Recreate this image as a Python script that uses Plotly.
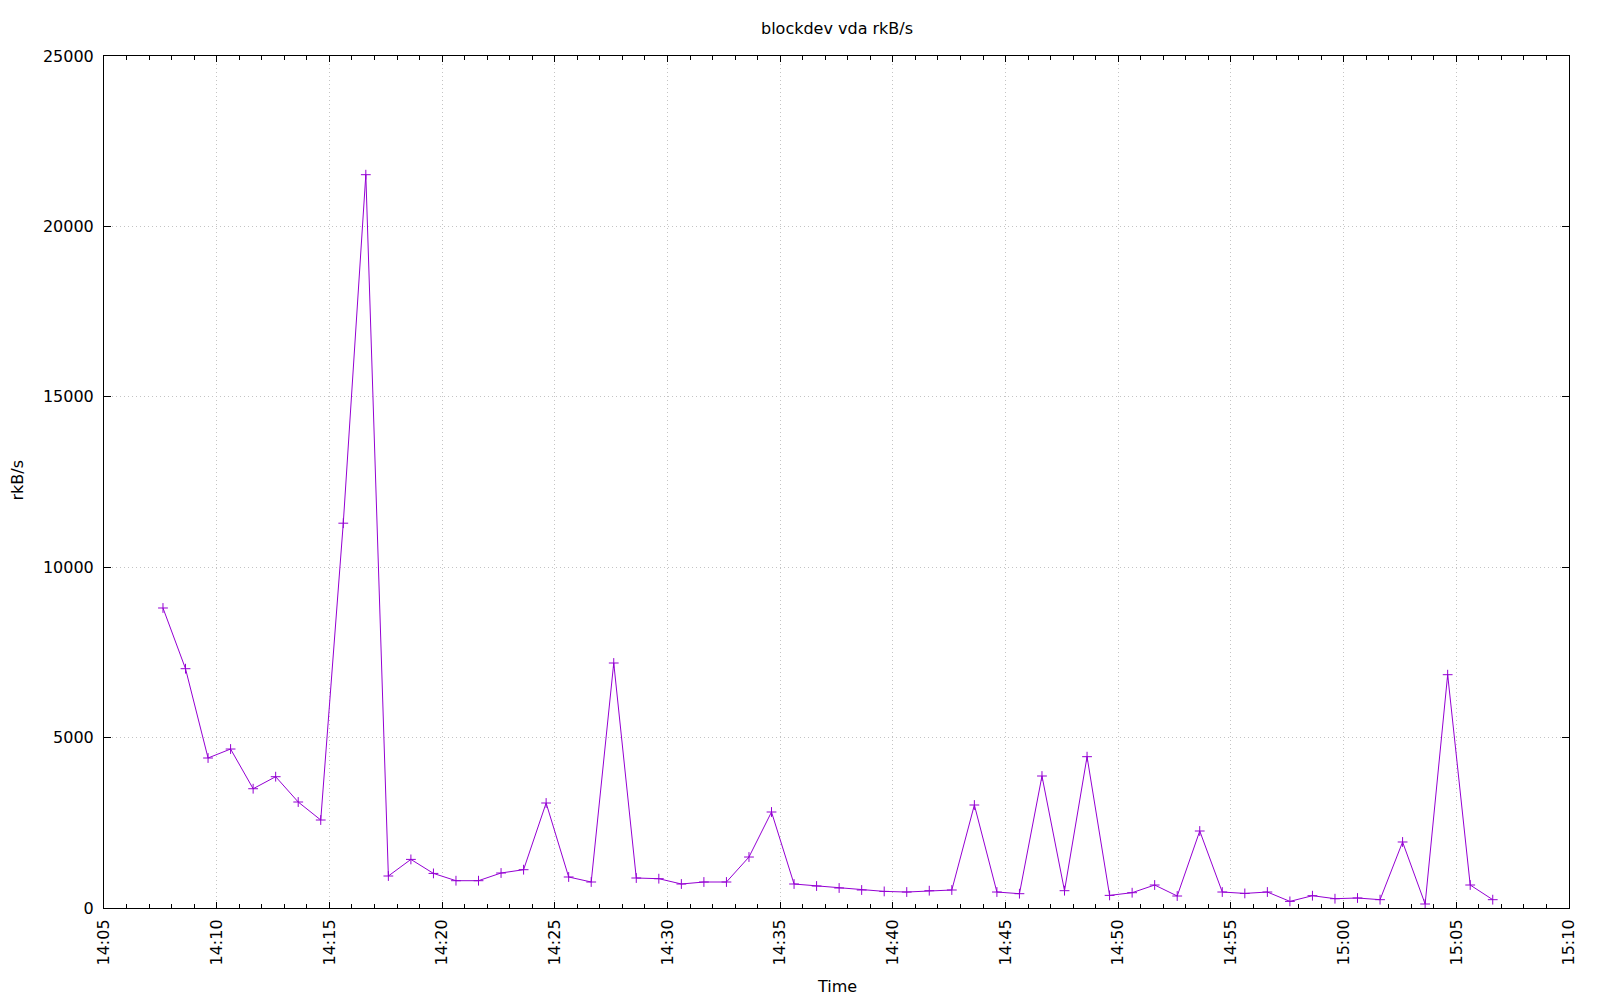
import plotly.graph_objects as go
import pandas as pd

times = [
    "14:07:37", "14:08:37", "14:09:37", "14:10:37", "14:11:37", "14:12:37", "14:13:37", "14:14:37",
    "14:15:37", "14:16:37", "14:17:37", "14:18:37", "14:19:37", "14:20:37", "14:21:37", "14:22:37",
    "14:23:37", "14:24:37", "14:25:37", "14:26:37", "14:27:37", "14:28:37", "14:29:37", "14:30:37",
    "14:31:37", "14:32:37", "14:33:37", "14:34:37", "14:35:37", "14:36:37", "14:37:37", "14:38:37",
    "14:39:37", "14:40:37", "14:41:37", "14:42:37", "14:43:37", "14:44:37", "14:45:37", "14:46:37",
    "14:47:37", "14:48:37", "14:49:37", "14:50:37", "14:51:37", "14:52:37", "14:53:37", "14:54:37",
    "14:55:37", "14:56:37", "14:57:37", "14:58:37", "14:59:37", "15:00:37", "15:01:37", "15:02:37",
    "15:03:37", "15:04:37", "15:05:37", "15:06:37",
]
rkbs = [
    8803, 7022, 4401, 4665, 3500, 3853, 3110, 2582,
    11291, 21517, 939, 1426, 1015, 801, 801, 1027,
    1124, 3081, 910, 763, 7189, 880, 860, 704,
    763, 763, 1496, 2817, 704, 645, 587, 528,
    487, 469, 508, 528, 3022, 469, 420, 3873,
    508, 4440, 370, 449, 675, 352, 2259, 469,
    428, 469, 194, 361, 273, 293, 244, 1937,
    117, 6846, 675, 244,
]
y_ticks = [0, 5000, 10000, 15000, 20000, 25000]

DAY = "2024-01-01 "
x = pd.to_datetime([DAY + t for t in times])

FONT = "DejaVu Sans"
FS = 16
COLOR = "#9400d3"
GRID = "#c4c4c4"

fig = go.Figure()
fig.add_trace(go.Scatter(
    x=x, y=rkbs, mode="lines+markers",
    line=dict(color=COLOR, width=1),
    marker=dict(symbol="cross-thin", size=7, line=dict(color=COLOR, width=1), color=COLOR),
    showlegend=False,
))

# the page body adds an 8px offset; plot area spans abs x 104..1569, y 56..908
OFF = 8
W, H = 1600 - OFF, 1000 - OFF
PL, PR, PT, PB = 104, 1569, 56, 908
L, T = PL - OFF, PT - OFF
R = (OFF + W) - PR
B = (OFF + H) - PB
pw = PR - PL
ph = PB - PT


def px(ax):
    return (ax - PL) / pw


def py(ay):
    return (PB - ay) / ph


fig.update_layout(
    width=W, height=H,
    margin=dict(l=L, r=R, t=T, b=B, autoexpand=False),
    paper_bgcolor="white", plot_bgcolor="white",
    font=dict(family=FONT, size=FS, color="black"),
    xaxis=dict(
        range=[pd.Timestamp(DAY + "14:05:00"), pd.Timestamp(DAY + "15:10:00")],
        tick0=pd.Timestamp(DAY + "14:05:00"), dtick=300000, tickformat="%H:%M",
        tickangle=-90, ticks="inside", ticklen=6, tickcolor="black",
        ticklabelstandoff=4,
        showline=True, linecolor="black", linewidth=1, mirror="allticks",
        showgrid=True, gridcolor=GRID, griddash="1px,3px", gridwidth=1,
        zeroline=False,
        minor=dict(dtick=60000, ticks="inside", ticklen=4, tickcolor="black", showgrid=False),
        tickfont=dict(family=FONT, size=FS),
    ),
    yaxis=dict(
        range=[0, 25000], tickvals=y_ticks, ticktext=[str(v) for v in y_ticks],
        ticks="inside", ticklen=7, tickcolor="black",
        ticklabelstandoff=6,
        showline=True, linecolor="black", linewidth=1, mirror="allticks",
        showgrid=True, gridcolor=GRID, griddash="1px,3px", gridwidth=1,
        zeroline=False,
        tickfont=dict(family=FONT, size=FS),
    ),
    annotations=[
        dict(text="blockdev vda rkB/s", xref="paper", yref="paper",
             x=0.5, y=py(28.5), xanchor="center", yanchor="middle",
             showarrow=False, font=dict(family=FONT, size=FS)),
        dict(text="Time", xref="paper", yref="paper",
             x=0.5, y=py(986), xanchor="center", yanchor="middle",
             showarrow=False, font=dict(family=FONT, size=FS)),
        dict(text="rkB/s", xref="paper", yref="paper", textangle=-90,
             x=px(17.5), y=py(480), xanchor="center", yanchor="middle",
             showarrow=False, font=dict(family=FONT, size=FS)),
    ],
)

fig.write_html("out.html")
